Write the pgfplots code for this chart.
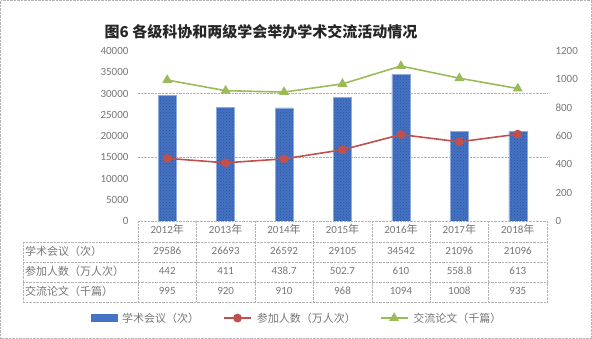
\documentclass[border=0pt]{standalone}
\usepackage{fontspec}
\setmainfont{Carlito}
\newfontfamily\cjk{Noto Sans CJK SC}
\usepackage{pgfplots}
\pgfplotsset{compat=1.18}
\usepackage{pgfplotstable}
\usetikzlibrary{patterns}
\definecolor{barblue}{RGB}{68,114,196}
\definecolor{bardark}{RGB}{47,85,151}
\definecolor{redl}{RGB}{192,80,77}
\definecolor{greenl}{RGB}{155,187,89}
\definecolor{txtgray}{RGB}{118,118,118}
\definecolor{gridgray}{RGB}{180,180,180}
\pgfplotsset{mylegline/.style={legend image code/.code={\draw[mark repeat=2,mark phase=2,##1] plot coordinates {(0pt,0pt) (13.5pt,0pt) (27pt,0pt)};}}}
\pgfplotstableread{
x meet people paper
0 29586 442 995
1 26693 411 920
2 26592 438.7 910
3 29105 502.7 968
4 34542 610 1094
5 21096 558.8 1008
6 21096 613 935
}\datatab
\newcommand{\tfont}{\fontsize{11}{13}\selectfont}
\begin{document}
\begin{tikzpicture}
\begin{scope}[x=1pt,y=1pt]
\path[use as bounding box] (0,0) rectangle (592,339);
\draw[gridgray, densely dotted] (0.5,0.5) rectangle (591.5,338.5);
\node[font=\cjk\bfseries\fontsize{15}{18}\selectfont, text=black!85] at (261,307) {图6 各级科协和两级学会举办学术交流活动情况};
\end{scope}
\begin{axis}[
  at={(138pt,118pt)}, anchor=south west, scale only axis,
  width=409pt, height=170pt,
  xmin=-0.5, xmax=6.5, ymin=0, ymax=40000,
  ytick={0,5000,...,40000},
  xtick={0,...,6},
  xticklabels={{2012\cjk 年},{2013\cjk 年},{2014\cjk 年},{2015\cjk 年},{2016\cjk 年},{2017\cjk 年},{2018\cjk 年}},
  axis line style={draw=none},
  major tick length=0pt,
  scaled y ticks=false,
  /pgf/number format/assume math mode=true,
  /pgf/number format/1000 sep={},
  ticklabel style={font=\tfont, text=txtgray},
  yticklabel style={xshift=-6pt},
  extra y ticks={0,15000,30000},
  extra y tick labels={},
  extra y tick style={grid=major, major grid style={gridgray, densely dotted}},
  ybar, bar width=18pt,
]
\addplot[fill=barblue, draw=barblue!60!white, postaction={pattern=crosshatch dots, pattern color=bardark}] table[x=x,y=meet] {\datatab};
\end{axis}
\begin{axis}[
  at={(138pt,118pt)}, anchor=south west, scale only axis,
  width=409pt, height=170pt,
  xmin=-0.5, xmax=6.5, ymin=0, ymax=1200,
  ytick={0,200,...,1200},
  xtick=\empty,
  axis line style={draw=none},
  axis y line*=right,
  major tick length=0pt,
  /pgf/number format/assume math mode=true,
  /pgf/number format/1000 sep={},
  ticklabel style={font=\tfont, text=txtgray},
  yticklabel style={xshift=5pt},
  legend style={at={(0.389,-0.571)}, anchor=center, legend columns=3, draw=none, fill=none,
    font=\cjk\tfont, text=txtgray,
    /tikz/every odd column/.append style={column sep=3pt},
    /tikz/every even column/.append style={column sep=22pt}},
  legend cell align=left,
]
\addlegendimage{legend image code/.code={\fill[barblue] (0pt,-3.5pt) rectangle (26pt,3.5pt);}}
\addlegendentry{学术会议（次）}
\addplot[redl, line width=1.6pt, mark=*, mark size=3.6pt, mark options={fill=redl, draw=redl}, mylegline]
  table[x=x,y=people] {\datatab};
\addlegendentry{参加人数（万人次）}
\addplot[greenl, line width=1.6pt, mark=triangle*, mark size=4.2pt, mark options={fill=greenl, draw=greenl}, mylegline]
  table[x=x,y=paper] {\datatab};
\addlegendentry{交流论文（千篇）}
\end{axis}
\begin{scope}[x=1pt,y=1pt]
% data table grid
\foreach \yy in {97,77,57,37} {\draw[gridgray, densely dotted] (23,\yy) -- (547,\yy);}
\draw[gridgray, densely dotted] (23,97) -- (23,37);
\foreach \k in {0,...,7} {\draw[gridgray, densely dotted] ({138+58.43*\k},118) -- ({138+58.43*\k},37);}
% row labels
\begin{scope}[every node/.style={font=\cjk\tfont, text=txtgray, anchor=west, inner sep=0pt}]
\node at (25,88) {学术会议（次）};
\node at (25,68) {参加人数（万人次）};
\node at (25,48) {交流论文（千篇）};
\end{scope}
\begin{scope}[every node/.style={font=\tfont, text=txtgray, inner sep=0pt}]
\foreach \v [count=\i from 0] in {29586,26693,26592,29105,34542,21096,21096} {\node at ({138+58.43*(\i+0.5)},88) {\v};}
\foreach \v [count=\i from 0] in {442,411,438.7,502.7,610,558.8,613} {\node at ({138+58.43*(\i+0.5)},68) {\v};}
\foreach \v [count=\i from 0] in {995,920,910,968,1094,1008,935} {\node at ({138+58.43*(\i+0.5)},48) {\v};}
\end{scope}
\end{scope}
\end{tikzpicture}
\end{document}
